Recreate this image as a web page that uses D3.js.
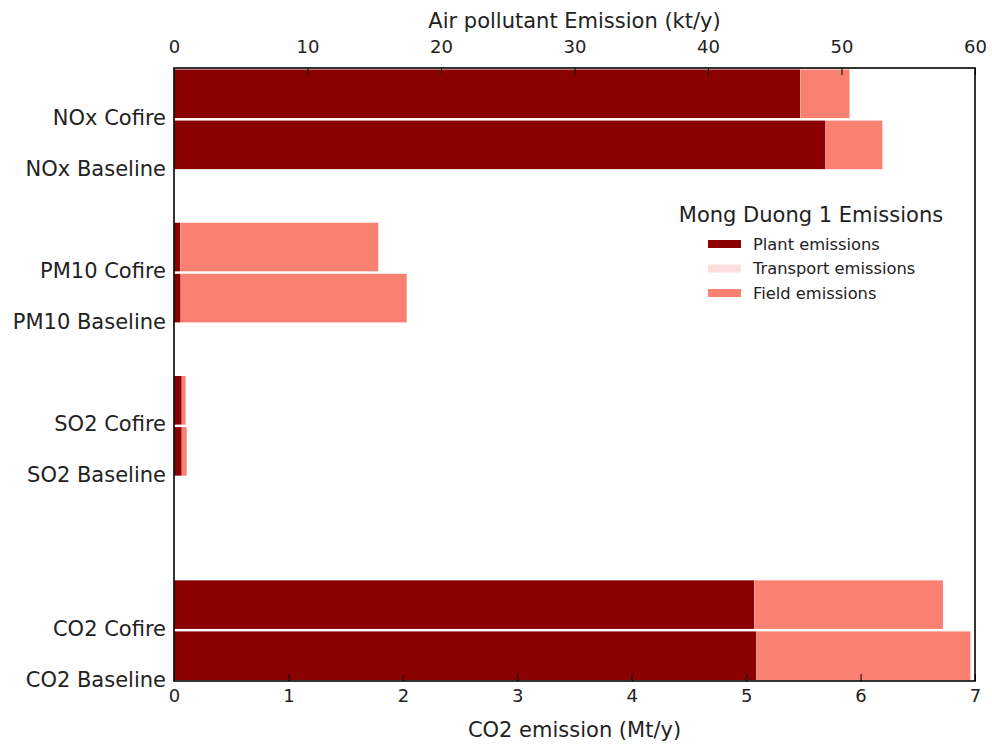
<!DOCTYPE html>
<html><head><meta charset="utf-8">
<script src="https://cdn.jsdelivr.net/npm/d3@7"></script>
<style>body{margin:0;background:#fff;} text{font-family:"DejaVu Sans",sans-serif;fill:#222;}</style>
</head><body>
<svg id="c" width="992" height="744"></svg>
<script>
// categories (top to bottom) and their slot positions (bar top edge, in bar units)
const categories = ["NOx Cofire","NOx Baseline","PM10 Cofire","PM10 Baseline","SO2 Cofire","SO2 Baseline","CO2 Cofire","CO2 Baseline"];
const slots = [0,1,3,4,6,7,10,11];
// which axis each category uses: "top" = kt/y, "bottom" = Mt/y
const axisOf = ["top","top","top","top","top","top","bottom","bottom"];
// series values
const plant     = [46.9, 48.8, 0.45, 0.5, 0.58, 0.58, 5.07, 5.09];
const transport = [0.02, 0.02, 0.02, 0.02, 0.01, 0.01, 0.002, 0.002];
const field     = [3.68, 4.24, 14.83, 16.91, 0.28, 0.36, 1.648, 1.868];
const seriesNames = ["Plant emissions","Transport emissions","Field emissions"];
const seriesColors = ["#8b0000","#fde0dd","#fa8072"];
const topTicks = [0,10,20,30,40,50,60];
const bottomTicks = [0,1,2,3,4,5,6,7];

const svg = d3.select("#c");
const L = 174, R = 975, T = 68, B = 681;
const xTop = d3.scaleLinear().domain([0,60]).range([L,R]);
const xBot = d3.scaleLinear().domain([0,7]).range([L,R]);
const y = d3.scaleLinear().domain([0,12]).range([T,B]);

const series = [plant, transport, field];
const g = svg.append("g");
categories.forEach((c,i)=>{
  const xs = axisOf[i]==="top" ? xTop : xBot;
  let acc = 0;
  series.forEach((s,k)=>{
    const v = s[i];
    g.append("rect")
      .attr("x", xs(acc)).attr("width", Math.max(0, xs(acc+v)-xs(acc)))
      .attr("y", y(slots[i]) + 1.5).attr("height", y(slots[i]+1)-y(slots[i]) - 2.5)
      .attr("fill", seriesColors[k]);
    acc += v;
  });
});

// frame
svg.append("rect").attr("x",L).attr("y",T).attr("width",R-L).attr("height",B-T)
  .attr("fill","none").attr("stroke","#000").attr("stroke-width",1.6);

// top axis
const topAx = d3.axisTop(xTop).tickValues(topTicks).tickFormat(d3.format("d")).tickSizeInner(-7).tickSizeOuter(0).tickPadding(15);
const gt = svg.append("g").attr("transform",`translate(0,${T})`).call(topAx);
gt.select(".domain").remove();
gt.selectAll("text").attr("font-size",18).attr("fill","#222").attr("font-family","DejaVu Sans");
gt.selectAll("line").attr("stroke","#000");

// bottom axis
const botAx = d3.axisBottom(xBot).tickValues(bottomTicks).tickFormat(d3.format("d")).tickSizeInner(-7).tickSizeOuter(0).tickPadding(8);
const gb = svg.append("g").attr("transform",`translate(0,${B})`).call(botAx);
gb.select(".domain").remove();
gb.selectAll("text").attr("font-size",18).attr("fill","#222").attr("font-family","DejaVu Sans");
gb.selectAll("line").attr("stroke","#000");

// left category labels at the bottom edge of each bar
const yAx = d3.axisLeft(y).tickValues(slots.map(s=>s+1)).tickFormat((d,i)=>categories[i]).tickSize(0).tickPadding(8);
const gl = svg.append("g").attr("transform",`translate(${L},0)`).call(yAx);
gl.select(".domain").remove();
gl.selectAll("text").attr("font-size",21).attr("fill","#222").attr("font-family","DejaVu Sans").attr("dy","0.25em");

// axis titles
svg.append("text").attr("x",(L+R)/2).attr("y",28).attr("text-anchor","middle").attr("font-size",21).text("Air pollutant Emission (kt/y)");
svg.append("text").attr("x",(L+R)/2).attr("y",737).attr("text-anchor","middle").attr("font-size",21).text("CO2 emission (Mt/y)");

// legend
const lg = svg.append("g");
lg.append("text").attr("x",811).attr("y",222).attr("text-anchor","middle").attr("font-size",21).text("Mong Duong 1 Emissions");
seriesNames.forEach((n,k)=>{
  const cy = 244 + k*24.5;
  lg.append("rect").attr("x",708).attr("y",cy-4).attr("width",33).attr("height",8).attr("fill",seriesColors[k]);
  lg.append("text").attr("x",753).attr("y",cy+5.5).attr("font-size",16.3).text(n);
});
</script>
</body></html>
